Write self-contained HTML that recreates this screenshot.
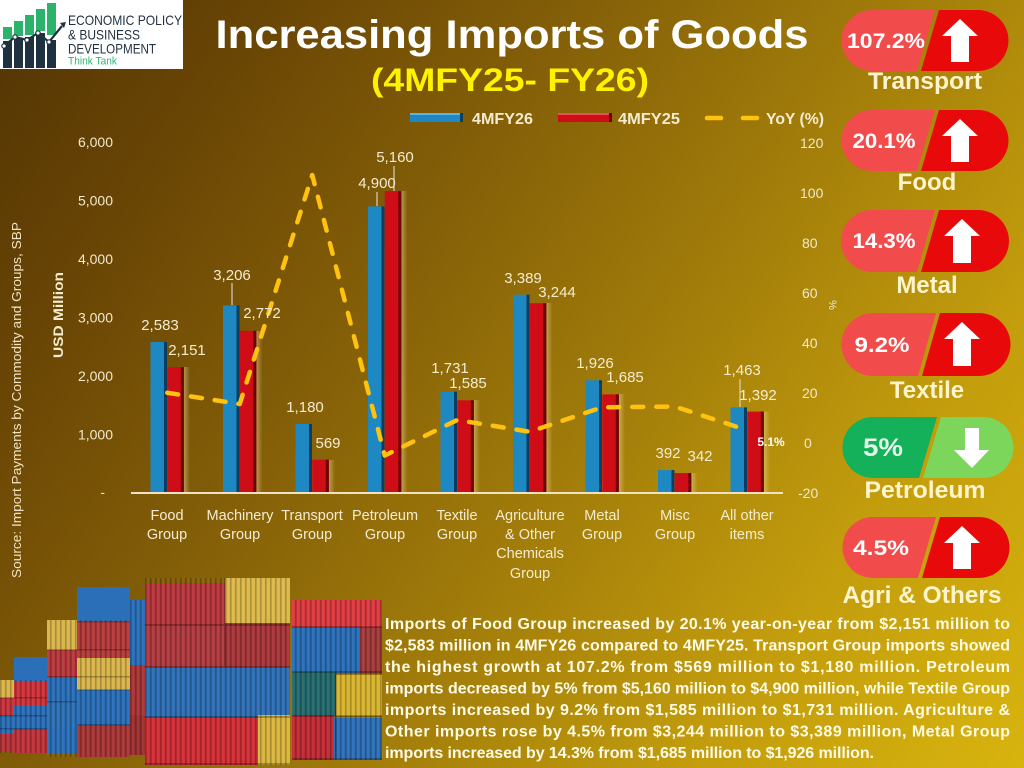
<!DOCTYPE html>
<html><head><meta charset="utf-8"><style>
html,body{margin:0;padding:0;}
body{width:1024px;height:768px;overflow:hidden;background:linear-gradient(125deg,#523404 0%,#6a4605 18%,#856008 38%,#a27d0a 58%,#c29c0c 78%,#d8b40e 100%);font-family:"Liberation Sans",sans-serif;}
svg{position:absolute;left:0;top:0;}
</style></head><body>
<svg width="1024" height="768" viewBox="0 0 1024 768" xmlns="http://www.w3.org/2000/svg" font-family="Liberation Sans, sans-serif">
<defs>
<pattern id="rib" width="5" height="10" patternUnits="userSpaceOnUse"><rect x="0" y="0" width="1.6" height="10" fill="#000" opacity="0.22"/><rect x="2.5" y="0" width="1" height="10" fill="#fff" opacity="0.08"/></pattern>
<linearGradient id="glow" x1="0" y1="0" x2="1" y2="0"><stop offset="0" stop-color="#f4dca0" stop-opacity="0.45"/><stop offset="1" stop-color="#f4dca0" stop-opacity="0"/></linearGradient>
</defs>

<!-- Logo -->
<rect x="0" y="0" width="183" height="69" fill="#ffffff"/>
<g>
<rect x="3" y="27" width="9" height="12" fill="#2cb36b"/><rect x="3" y="41" width="9" height="27" fill="#1f3040"/>
<rect x="14" y="21" width="9" height="15" fill="#2cb36b"/><rect x="14" y="38" width="9" height="30" fill="#1f3040"/>
<rect x="25" y="15" width="9" height="20" fill="#2cb36b"/><rect x="25" y="37" width="9" height="31" fill="#1f3040"/>
<rect x="36" y="9" width="9" height="22" fill="#2cb36b"/><rect x="36" y="33" width="9" height="35" fill="#1f3040"/>
<rect x="47" y="3" width="9" height="32" fill="#2cb36b"/><rect x="47" y="40" width="9" height="28" fill="#1f3040"/>
<polyline points="4,46 15,37 27,40 38,33 49,42 62,26" fill="none" stroke="#1f3040" stroke-width="2.2"/>
<circle cx="4" cy="46" r="2.2" fill="#fff" stroke="#1f3040" stroke-width="1.2"/>
<circle cx="15" cy="37" r="2.2" fill="#fff" stroke="#1f3040" stroke-width="1.2"/>
<circle cx="27" cy="40" r="2.2" fill="#fff" stroke="#1f3040" stroke-width="1.2"/>
<circle cx="38" cy="33" r="2.2" fill="#fff" stroke="#1f3040" stroke-width="1.2"/>
<circle cx="49" cy="42" r="2.2" fill="#fff" stroke="#1f3040" stroke-width="1.2"/>
<polygon points="60,23 66,22 64,28" fill="#1f3040"/>
</g>
<text x="68" y="25" font-size="14" fill="#1f3040" textLength="114" lengthAdjust="spacingAndGlyphs">ECONOMIC POLICY</text>
<text x="68" y="39.5" font-size="14" fill="#1f3040" textLength="72" lengthAdjust="spacingAndGlyphs">&amp; BUSINESS</text>
<text x="68" y="53.5" font-size="14" fill="#1f3040" textLength="88" lengthAdjust="spacingAndGlyphs">DEVELOPMENT</text>
<text x="68" y="64.5" font-size="11" fill="#2bb673" textLength="49" lengthAdjust="spacingAndGlyphs">Think Tank</text>

<!-- Title -->
<text x="512" y="48" text-anchor="middle" font-size="40" font-weight="bold" fill="#ffffff" textLength="593" lengthAdjust="spacingAndGlyphs">Increasing Imports of Goods</text>
<text x="510" y="91" text-anchor="middle" font-size="32" font-weight="bold" fill="#fff200" textLength="278" lengthAdjust="spacingAndGlyphs">(4MFY25- FY26)</text>

<!-- Legend -->
<rect x="410" y="113" width="53" height="9" fill="#1e88c2"/><rect x="410" y="113" width="53" height="2" fill="#5cb4e0"/><rect x="460" y="113" width="3" height="9" fill="#0b3d60"/>
<text x="472" y="124" font-size="15.5" font-weight="bold" fill="#f5ecd0" textLength="61" lengthAdjust="spacingAndGlyphs">4MFY26</text>
<rect x="558" y="113" width="54" height="9" fill="#cf0d16"/><rect x="558" y="113" width="54" height="2" fill="#e85058"/><rect x="609" y="113" width="3" height="9" fill="#6d0006"/>
<text x="618" y="124" font-size="15.5" font-weight="bold" fill="#f5ecd0" textLength="62" lengthAdjust="spacingAndGlyphs">4MFY25</text>
<line x1="707" y1="118" x2="721" y2="118" stroke="#ffc20e" stroke-width="4.5" stroke-linecap="round"/>
<line x1="743" y1="118" x2="757" y2="118" stroke="#ffc20e" stroke-width="4.5" stroke-linecap="round"/>
<text x="766" y="124" font-size="15.5" font-weight="bold" fill="#f5ecd0" textLength="58" lengthAdjust="spacingAndGlyphs">YoY (%)</text>

<!-- Left axis -->
<g font-size="14" fill="#f2e8cc" text-anchor="end">
<text x="113" y="147">6,000</text>
<text x="113" y="205.5">5,000</text>
<text x="113" y="264">4,000</text>
<text x="113" y="322.5">3,000</text>
<text x="113" y="381">2,000</text>
<text x="113" y="439.5">1,000</text>
<text x="105" y="497">-</text>
</g>
<!-- Right axis -->
<g font-size="14" fill="#f2e8cc">
<text x="800" y="148">120</text>
<text x="800" y="198">100</text>
<text x="802" y="248">80</text>
<text x="802" y="298">60</text>
<text x="802" y="348">40</text>
<text x="802" y="398">20</text>
<text x="804" y="448">0</text>
<text x="798" y="498">-20</text>
</g>
<text transform="translate(829,305) rotate(90)" font-size="11" fill="#f2e8cc" text-anchor="middle">%</text>

<text transform="translate(63,315) rotate(-90)" font-size="14" font-weight="bold" fill="#f5ecd0" text-anchor="middle" textLength="86" lengthAdjust="spacingAndGlyphs">USD Million</text>
<text transform="translate(21,400) rotate(-90)" font-size="12.5" fill="#f0e4c4" text-anchor="middle" textLength="356" lengthAdjust="spacingAndGlyphs">Source: Import Payments by Commodity and Groups, SBP</text>

<!-- Bars -->
<g>
<rect x="184" y="367" width="6" height="126" fill="url(#glow)"/>
<rect x="150.5" y="342" width="16.5" height="151" fill="#1e88c2"/><rect x="164" y="342" width="3" height="151" fill="#0b3d60"/>
<rect x="167.25" y="367.2" width="16.5" height="125.8" fill="#cf0d16"/><rect x="180.8" y="367.2" width="3" height="125.8" fill="#6d0006"/>
<rect x="256.5" y="331" width="6" height="162" fill="url(#glow)"/>
<rect x="223" y="305.4" width="16.5" height="187.6" fill="#1e88c2"/><rect x="236.5" y="305.4" width="3" height="187.6" fill="#0b3d60"/>
<rect x="239.75" y="330.8" width="16.5" height="162.2" fill="#cf0d16"/><rect x="253.3" y="330.8" width="3" height="162.2" fill="#6d0006"/>
<rect x="329" y="460" width="6" height="33" fill="url(#glow)"/>
<rect x="295.5" y="424" width="16.5" height="69" fill="#1e88c2"/><rect x="309" y="424" width="3" height="69" fill="#0b3d60"/>
<rect x="312.25" y="459.7" width="16.5" height="33.3" fill="#cf0d16"/><rect x="325.8" y="459.7" width="3" height="33.3" fill="#6d0006"/>
<rect x="401.5" y="191" width="6" height="302" fill="url(#glow)"/>
<rect x="368" y="206.4" width="16.5" height="286.6" fill="#1e88c2"/><rect x="381.5" y="206.4" width="3" height="286.6" fill="#0b3d60"/>
<rect x="384.75" y="191.1" width="16.5" height="301.9" fill="#cf0d16"/><rect x="398.3" y="191.1" width="3" height="301.9" fill="#6d0006"/>
<rect x="474" y="400" width="6" height="93" fill="url(#glow)"/>
<rect x="440.5" y="391.7" width="16.5" height="101.3" fill="#1e88c2"/><rect x="454" y="391.7" width="3" height="101.3" fill="#0b3d60"/>
<rect x="457.25" y="400.3" width="16.5" height="92.7" fill="#cf0d16"/><rect x="470.8" y="400.3" width="3" height="92.7" fill="#6d0006"/>
<rect x="546.5" y="303" width="6" height="190" fill="url(#glow)"/>
<rect x="513" y="294.7" width="16.5" height="198.3" fill="#1e88c2"/><rect x="526.5" y="294.7" width="3" height="198.3" fill="#0b3d60"/>
<rect x="529.75" y="303.2" width="16.5" height="189.8" fill="#cf0d16"/><rect x="543.3" y="303.2" width="3" height="189.8" fill="#6d0006"/>
<rect x="619" y="394" width="6" height="99" fill="url(#glow)"/>
<rect x="585.5" y="380.3" width="16.5" height="112.7" fill="#1e88c2"/><rect x="599" y="380.3" width="3" height="112.7" fill="#0b3d60"/>
<rect x="602.25" y="394.4" width="16.5" height="98.6" fill="#cf0d16"/><rect x="615.8" y="394.4" width="3" height="98.6" fill="#6d0006"/>
<rect x="691.5" y="473" width="6" height="20" fill="url(#glow)"/>
<rect x="658" y="470.1" width="16.5" height="22.9" fill="#1e88c2"/><rect x="671.5" y="470.1" width="3" height="22.9" fill="#0b3d60"/>
<rect x="674.75" y="473" width="16.5" height="20" fill="#cf0d16"/><rect x="688.3" y="473" width="3" height="20" fill="#6d0006"/>
<rect x="764" y="411.6" width="6" height="81.4" fill="url(#glow)"/>
<rect x="730.5" y="407.4" width="16.5" height="85.6" fill="#1e88c2"/><rect x="744" y="407.4" width="3" height="85.6" fill="#0b3d60"/>
<rect x="747.25" y="411.6" width="16.5" height="81.4" fill="#cf0d16"/><rect x="760.8" y="411.6" width="3" height="81.4" fill="#6d0006"/>
</g>

<line x1="131" y1="493" x2="783" y2="493" stroke="#efe3c3" stroke-width="2"/>

<g stroke="#d8d0c0" stroke-width="1.2">
<line x1="232" y1="283" x2="232" y2="305"/>
<line x1="377" y1="192" x2="377" y2="206"/>
<line x1="394" y1="166" x2="394" y2="191"/>
<line x1="740" y1="379" x2="740" y2="407"/>
</g>

<polyline points="167.25,392.75 239.75,404 312.25,175 384.75,455.5 457.25,420 529.75,431.75 602.25,407.25 674.75,406.5 747.25,430.25" fill="none" stroke="#ffc20e" stroke-width="4.5" stroke-dasharray="11 13" stroke-linecap="round" stroke-linejoin="round"/>

<g font-size="15" fill="#f5ecd0" text-anchor="middle">
<text x="160" y="330">2,583</text>
<text x="187" y="355">2,151</text>
<text x="232" y="280">3,206</text>
<text x="262" y="318">2,772</text>
<text x="305" y="412">1,180</text>
<text x="328" y="448">569</text>
<text x="377" y="188">4,900</text>
<text x="395" y="162">5,160</text>
<text x="450" y="373">1,731</text>
<text x="468" y="388">1,585</text>
<text x="523" y="283">3,389</text>
<text x="557" y="297">3,244</text>
<text x="595" y="368">1,926</text>
<text x="625" y="382">1,685</text>
<text x="668" y="458">392</text>
<text x="700" y="461">342</text>
<text x="742" y="375">1,463</text>
<text x="758" y="400">1,392</text>
</g>
<text x="771" y="446" font-size="12" font-weight="bold" fill="#ffffff" text-anchor="middle">5.1%</text>

<g font-size="14.5" fill="#f5ecd0" text-anchor="middle">
<text x="167" y="520">Food</text><text x="167" y="539">Group</text>
<text x="240" y="520">Machinery</text><text x="240" y="539">Group</text>
<text x="312" y="520">Transport</text><text x="312" y="539">Group</text>
<text x="385" y="520">Petroleum</text><text x="385" y="539">Group</text>
<text x="457" y="520">Textile</text><text x="457" y="539">Group</text>
<text x="530" y="520">Agriculture</text><text x="530" y="539">&amp; Other</text><text x="530" y="558">Chemicals</text><text x="530" y="578">Group</text>
<text x="602" y="520">Metal</text><text x="602" y="539">Group</text>
<text x="675" y="520">Misc</text><text x="675" y="539">Group</text>
<text x="747" y="520">All other</text><text x="747" y="539">items</text>
</g>

<!-- Pills -->
<g>
<path d="M872,10 L935,10 L917,71 L872,71 A30.5,30.5 0 0 1 872,10 Z" fill="#f24b4b"/>
<path d="M939,10 L978,10 A30.5,30.5 0 0 1 978,71 L921,71 Z" fill="#e80a0a"/>
<polygon points="960,19 978,36 969,36 969,62 951,62 951,36 942,36" fill="#ffffff"/>
<text x="886" y="48" font-size="21" font-weight="bold" fill="#ffffff" text-anchor="middle" textLength="78" lengthAdjust="spacingAndGlyphs">107.2%</text>
<text x="925" y="89" font-size="24" font-weight="bold" fill="#fff4cc" text-anchor="middle" textLength="114" lengthAdjust="spacingAndGlyphs">Transport</text>
<path d="M872,110 L935,110 L917,171 L872,171 A30.5,30.5 0 0 1 872,110 Z" fill="#f24b4b"/>
<path d="M939,110 L978,110 A30.5,30.5 0 0 1 978,171 L921,171 Z" fill="#e80a0a"/>
<polygon points="960,119 978,136 969,136 969,162 951,162 951,136 942,136" fill="#ffffff"/>
<text x="884" y="148" font-size="21" font-weight="bold" fill="#ffffff" text-anchor="middle" textLength="63" lengthAdjust="spacingAndGlyphs">20.1%</text>
<text x="927" y="190" font-size="24" font-weight="bold" fill="#fff4cc" text-anchor="middle">Food</text>
<path d="M872,210 L935,210 L917,272 L872,272 A31,31 0 0 1 872,210 Z" fill="#f24b4b"/>
<path d="M939,210 L978,210 A31,31 0 0 1 978,272 L921,272 Z" fill="#e80a0a"/>
<polygon points="962,219 980,236 971,236 971,263 953,263 953,236 944,236" fill="#ffffff"/>
<text x="884" y="248" font-size="21" font-weight="bold" fill="#ffffff" text-anchor="middle" textLength="63" lengthAdjust="spacingAndGlyphs">14.3%</text>
<text x="927" y="293" font-size="24" font-weight="bold" fill="#fff4cc" text-anchor="middle">Metal</text>
<path d="M873,313 L936,313 L918,376 L873,376 A31.5,31.5 0 0 1 873,313 Z" fill="#f24b4b"/>
<path d="M940,313 L979,313 A31.5,31.5 0 0 1 979,376 L922,376 Z" fill="#e80a0a"/>
<polygon points="962,322 980,339 971,339 971,366 953,366 953,339 944,339" fill="#ffffff"/>
<text x="882" y="352" font-size="21" font-weight="bold" fill="#ffffff" text-anchor="middle" textLength="55" lengthAdjust="spacingAndGlyphs">9.2%</text>
<text x="927" y="398" font-size="24" font-weight="bold" fill="#fff4cc" text-anchor="middle">Textile</text>
<path d="M873,417 L937,417 L919,478 L873,478 A30.5,30.5 0 0 1 873,417 Z" fill="#14b05a"/>
<path d="M941,417 L983,417 A30.5,30.5 0 0 1 983,478 L923,478 Z" fill="#7dd65c"/>
<polygon points="965,428 979,428 979,450 989,450 972,468 954,450 965,450" fill="#ffffff"/>
<text x="883" y="456" font-size="25" font-weight="bold" fill="#e4f7ea" text-anchor="middle" textLength="40" lengthAdjust="spacingAndGlyphs">5%</text>
<text x="925" y="498" font-size="24" font-weight="bold" fill="#fff4cc" text-anchor="middle" textLength="121" lengthAdjust="spacingAndGlyphs">Petroleum</text>
<path d="M873,517 L936,517 L918,578 L873,578 A30.5,30.5 0 0 1 873,517 Z" fill="#f24b4b"/>
<path d="M940,517 L979,517 A30.5,30.5 0 0 1 979,578 L922,578 Z" fill="#e80a0a"/>
<polygon points="962,526 980,543 971,543 971,569 953,569 953,543 944,543" fill="#ffffff"/>
<text x="881" y="555" font-size="21" font-weight="bold" fill="#ffffff" text-anchor="middle" textLength="56" lengthAdjust="spacingAndGlyphs">4.5%</text>
<text x="922" y="603" font-size="24" font-weight="bold" fill="#fff4cc" text-anchor="middle" textLength="159" lengthAdjust="spacingAndGlyphs">Agri &amp; Others</text>
</g>

<!-- Containers -->
<g>
<rect x="0" y="680" width="14" height="18" fill="#d9b34a"/><rect x="0" y="698" width="14" height="18" fill="#c8323a"/><rect x="0" y="716" width="14" height="18" fill="#2a6fb8"/><rect x="0" y="734" width="14" height="18" fill="#b83238"/>
<rect x="14" y="657" width="33" height="24" fill="#2a6fb8"/><rect x="14" y="681" width="33" height="24" fill="#d0323a"/><rect x="14" y="705" width="33" height="24" fill="#2a6fb8"/><rect x="14" y="729" width="33" height="24" fill="#c0323a"/>
<rect x="47" y="620" width="30" height="30" fill="#d8b44a"/><rect x="47" y="650" width="30" height="27" fill="#b8383c"/><rect x="47" y="677" width="30" height="25" fill="#2a6fb8"/><rect x="47" y="702" width="30" height="25" fill="#2c70b6"/><rect x="47" y="727" width="30" height="27" fill="#2a6fb8"/>
<rect x="77" y="587" width="53" height="35" fill="#2a6fb8"/><rect x="77" y="622" width="53" height="36" fill="#b53a3a"/><rect x="77" y="658" width="53" height="32" fill="#d8b44a"/><rect x="77" y="690" width="53" height="35" fill="#2a6fb8"/><rect x="77" y="725" width="53" height="32" fill="#a83535"/>
<rect x="130" y="600" width="15" height="65" fill="#2a6fb8"/><rect x="130" y="665" width="15" height="50" fill="#a83535"/><rect x="130" y="715" width="15" height="40" fill="#9c3030"/>
<rect x="145" y="583" width="80" height="42" fill="#b8363c"/><rect x="145" y="625" width="80" height="42" fill="#b03a3e"/>
<rect x="225" y="578" width="65" height="45" fill="#dcb84a"/><rect x="225" y="623" width="65" height="45" fill="#a8363a"/>
<rect x="145" y="667" width="145" height="50" fill="#2d6fb5"/>
<rect x="145" y="717" width="113" height="48" fill="#d22e36"/><rect x="258" y="715" width="32" height="50" fill="#d9b53e"/>
<rect x="292" y="600" width="90" height="30" fill="#dd3a3f"/>
<rect x="292" y="627" width="68" height="47" fill="#2a6eb8"/><rect x="360" y="627" width="22" height="47" fill="#a33a3a"/>
<rect x="292" y="672" width="44" height="44" fill="#236a6e"/><rect x="336" y="675" width="46" height="41" fill="#d8b32e"/>
<rect x="292" y="716" width="42" height="44" fill="#c22a34"/><rect x="334" y="718" width="48" height="42" fill="#2d70b8"/>
</g>
<g fill="url(#rib)">
<rect x="0" y="680" width="47" height="73"/><rect x="47" y="620" width="83" height="137"/><rect x="130" y="600" width="15" height="155"/>
<rect x="145" y="578" width="145" height="187"/><rect x="292" y="600" width="90" height="160"/>
</g>
<g fill="#000" opacity="0.25">
<rect x="0" y="697" width="47" height="1.5"/><rect x="0" y="715" width="47" height="1.5"/><rect x="0" y="728" width="47" height="1.5"/>
<rect x="47" y="649" width="83" height="1.5"/><rect x="47" y="676" width="83" height="1.5"/><rect x="47" y="701" width="30" height="1.5"/><rect x="77" y="621" width="53" height="1.5"/><rect x="77" y="689" width="53" height="1.5"/><rect x="77" y="724" width="53" height="1.5"/>
<rect x="145" y="624" width="145" height="2"/><rect x="145" y="666" width="145" height="2"/><rect x="145" y="716" width="145" height="2"/><rect x="145" y="763" width="145" height="2"/>
<rect x="292" y="626" width="90" height="2"/><rect x="292" y="671" width="90" height="2"/><rect x="292" y="715" width="90" height="2"/><rect x="292" y="758" width="90" height="2"/>
<rect x="224" y="578" width="1.5" height="90"/><rect x="335" y="672" width="1.5" height="88"/>
</g>

<!-- Paragraph -->
<g font-size="16" font-weight="bold" fill="#fffbe6">
<text x="385" y="629" textLength="625" lengthAdjust="spacing">Imports of Food Group increased by 20.1% year-on-year from $2,151 million to</text>
<text x="385" y="650.5" textLength="625" lengthAdjust="spacing">$2,583 million in 4MFY26 compared to 4MFY25. Transport Group imports showed</text>
<text x="385" y="672" textLength="625" lengthAdjust="spacing">the highest growth at 107.2% from $569 million to $1,180 million. Petroleum</text>
<text x="385" y="693.5" textLength="625" lengthAdjust="spacing">imports decreased by 5% from $5,160 million to $4,900 million, while Textile Group</text>
<text x="385" y="715" textLength="625" lengthAdjust="spacing">imports increased by 9.2% from $1,585 million to $1,731 million. Agriculture &amp;</text>
<text x="385" y="736.5" textLength="625" lengthAdjust="spacing">Other imports rose by 4.5% from $3,244 million to $3,389 million, Metal Group</text>
<text x="385" y="758" textLength="489" lengthAdjust="spacing">imports increased by 14.3% from $1,685 million to $1,926 million.</text>
</g>
</svg>
</body></html>
